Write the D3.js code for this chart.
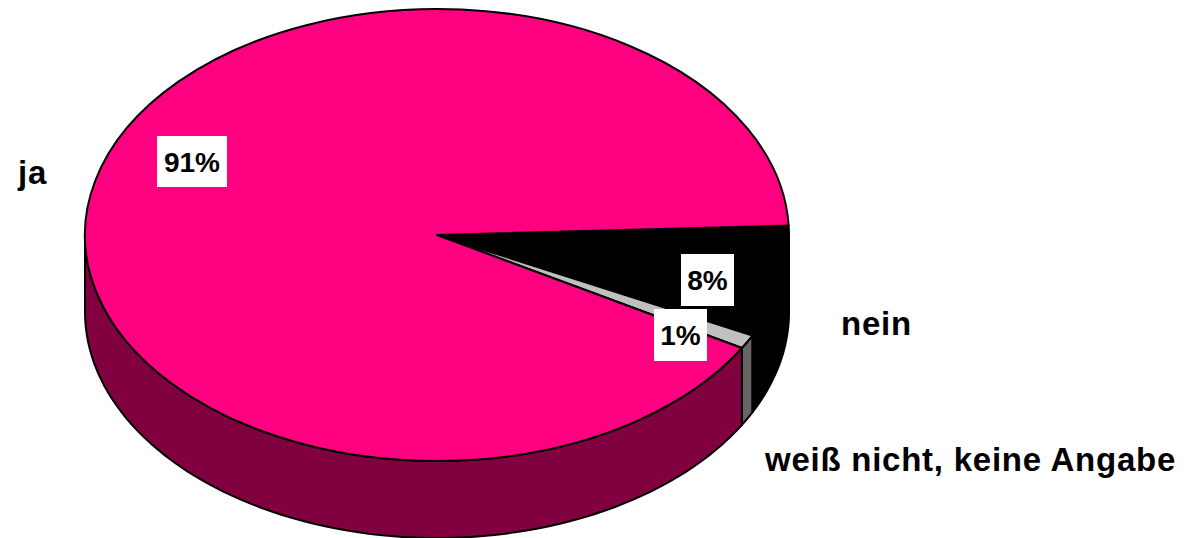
<!DOCTYPE html>
<html><head><meta charset="utf-8">
<script src="https://cdn.jsdelivr.net/npm/d3@7/dist/d3.min.js"></script>
<style>html,body{margin:0;background:#fff}svg{display:block}text{font-family:"Liberation Sans",Arial,sans-serif;font-weight:700;fill:#000}</style>
</head><body><svg id="c" width="1188" height="538"></svg>
<script>
const categories = ["nein", "weiß nicht, keine Angabe", "ja"];
const values = [8, 1, 91];
const topColors = ["#000000", "#c0c0c0", "#ff0080"];
const sideColors = ["#000000", "#666666", "#800040"];

const cx = 437, cy = 235, rx = 352, ry = 226, depth = 77;
const svg = d3.select("#c");
const start = 87.6 * Math.PI / 180;
const arcs = d3.pie().sort(null).startAngle(start).endAngle(start + 2 * Math.PI)(values);
const px = a => cx + rx * Math.sin(a), py = a => cy - ry * Math.cos(a);

// side walls (front half only: d3 angle from 90deg to 270deg)
function wall(a0, a1) {
  const lo = Math.max(a0, Math.PI / 2), hi = Math.min(a1, 1.5 * Math.PI);
  if (hi <= lo) return null;
  const n = 80, pts = d3.range(n + 1).map(i => lo + (hi - lo) * i / n);
  const top = pts.map(a => [px(a), py(a)]);
  const bot = pts.slice().reverse().map(a => [px(a), py(a) + depth]);
  return d3.line()(top.concat(bot)) + "Z";
}
svg.append("g").selectAll("path").data(arcs).join("path")
  .attr("d", d => wall(d.startAngle, d.endAngle))
  .attr("fill", (d, i) => sideColors[i])
  .attr("stroke", "#000").attr("stroke-width", 2).attr("stroke-linejoin", "round");

// top face: unit-radius arcs stretched to the ellipse
const arc = d3.arc().innerRadius(0).outerRadius(1);
svg.append("g").attr("transform", `translate(${cx},${cy}) scale(${rx},${ry})`)
  .selectAll("path").data(arcs).join("path")
  .attr("d", arc)
  .attr("fill", (d, i) => topColors[i])
  .attr("stroke", "#000").attr("stroke-width", 2)
  .attr("vector-effect", "non-scaling-stroke").attr("stroke-linejoin", "round");

// percent labels with white boxes
const boxes = [[681, 254, 53, 52], [654, 309, 53, 52], [157, 136, 70, 51]];
values.forEach((v, i) => {
  const [x, y, w, h] = boxes[i];
  svg.append("rect").attr("x", x).attr("y", y).attr("width", w).attr("height", h).attr("fill", "#fff");
  svg.append("text").attr("x", x + w / 2).attr("y", y + h / 2 + 10).attr("text-anchor", "middle")
    .attr("font-size", 28).text(v + "%");
});

// category labels
const catPos = [[841, 335], [765, 471], [18, 184]];
categories.forEach((c, i) => {
  svg.append("text").attr("x", catPos[i][0]).attr("y", catPos[i][1])
    .attr("font-size", 33).attr("letter-spacing", 0.75).text(c);
});
</script></body></html>
